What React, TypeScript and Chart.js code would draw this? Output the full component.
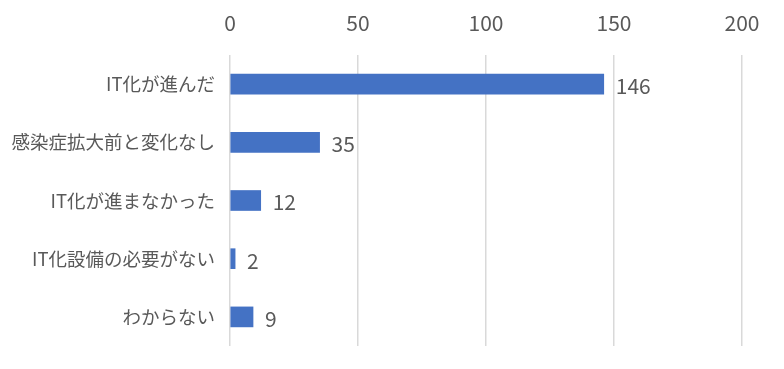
import React, { useEffect, useRef } from "react";
import { Chart, registerables } from "chart.js";

Chart.register(...registerables);

const categories = ["IT化が進んだ", "感染症拡大前と変化なし", "IT化が進まなかった", "IT化設備の必要がない", "わからない"];
const values = [146, 35, 12, 2, 9];
const xTicks = [0, 50, 100, 150, 200];

const FONT = "'Noto Sans CJK JP', 'Noto Sans', sans-serif";
const TEXT = "#595959";

const dataLabels = {
  id: "dataLabels",
  afterDatasetsDraw(chart: any) {
    const ctx = chart.ctx;
    const meta = chart.getDatasetMeta(0);
    ctx.save();
    ctx.font = `21px ${FONT}`;
    ctx.fillStyle = TEXT;
    ctx.textAlign = "left";
    ctx.textBaseline = "middle";
    meta.data.forEach((bar: any, i: number) => {
      ctx.fillText(String(values[i]), bar.x + 12, bar.y + 2);
    });
    ctx.restore();
  },
};

export default function App() {
  const ref = useRef<HTMLCanvasElement>(null);
  useEffect(() => {
    if (!ref.current) return;
    const chart = new Chart(ref.current, {
      type: "bar",
      data: {
        labels: categories,
        datasets: [
          {
            data: values,
            backgroundColor: "#4472C4",
            barThickness: 20,
          },
        ],
      },
      options: {
        indexAxis: "y",
        responsive: false,
        animation: false,
        layout: { padding: { left: 0, right: 42, top: 0, bottom: 23 } },
        plugins: { legend: { display: false }, tooltip: { enabled: false } },
        scales: {
          x: {
            position: "top",
            min: 0,
            max: 200,
            afterBuildTicks: (axis: any) => {
              axis.ticks = xTicks.map((v) => ({ value: v }));
            },
            afterFit: (axis: any) => {
              axis.height = 55;
            },
            grid: { color: "#d9d9d9", lineWidth: 1.5, drawTicks: false },
            border: { display: false },
            ticks: { color: TEXT, font: { family: FONT, size: 21 }, padding: 19 },
          },
          y: {
            afterFit: (axis: any) => {
              axis.width = 230;
            },
            grid: { display: false },
            border: { display: false },
            ticks: { color: TEXT, font: { family: FONT, size: 18.5 }, padding: 7 },
          },
        },
      },
      plugins: [dataLabels],
    });
    return () => chart.destroy();
  }, []);
  return (
    <div style={{ position: "fixed", left: 0, top: 0, width: 784, height: 369, background: "#fff" }}>
      <canvas ref={ref} width={784} height={369} />
    </div>
  );
}
